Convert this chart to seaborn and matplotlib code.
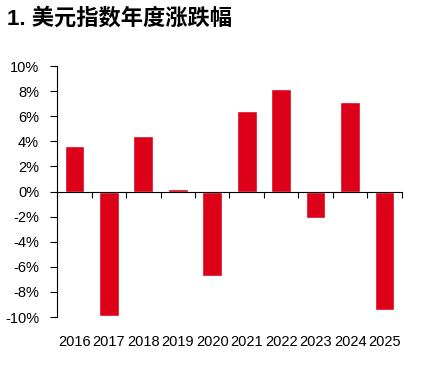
import matplotlib
matplotlib.use("Agg")
import matplotlib.pyplot as plt
import seaborn as sns
from matplotlib.ticker import FuncFormatter

# data
years = ["2016", "2017", "2018", "2019", "2020", "2021", "2022", "2023", "2024", "2025"]
change_pct = [3.6, -9.9, 4.4, 0.2, -6.7, 6.4, 8.2, -2.1, 7.1, -9.4]
y_ticks = [-10, -8, -6, -4, -2, 0, 2, 4, 6, 8, 10]
title = "1. 美元指数年度涨跌幅"
bar_color = "#DC0018"

sns.set_style("white")
plt.rcParams["font.family"] = ["Liberation Sans", "Noto Sans CJK SC"]
plt.rcParams["text.color"] = "black"
plt.rcParams["xtick.color"] = "black"
plt.rcParams["ytick.color"] = "black"

fig = plt.figure(figsize=(4.23, 3.67), dpi=100)
ax = fig.add_axes([0.135, 0.136, 0.815, 0.684])

sns.barplot(x=years, y=change_pct, color=bar_color, saturation=1, width=0.57, ax=ax)

ax.set_xlim(-0.5, len(years) - 0.5)
ax.set_ylim(-10, 10)
ax.set_yticks(y_ticks)
ax.yaxis.set_major_formatter(FuncFormatter(lambda v, p: f"{v:.0f}%"))
ax.tick_params(axis="y", direction="out", length=5, width=0.8, labelsize=10.5, pad=8, left=True)

for s in ["top", "right"]:
    ax.spines[s].set_visible(False)
ax.spines["left"].set_color("black")
ax.spines["left"].set_linewidth(0.8)

# zero line with ticks on category boundaries
ax.spines["bottom"].set_position(("data", 0))
ax.spines["bottom"].set_color("black")
ax.spines["bottom"].set_linewidth(0.8)
ax.set_xticks([i - 0.5 for i in range(len(years) + 1)])
ax.set_xticklabels([])
ax.tick_params(axis="x", direction="out", length=4, width=0.8, bottom=True)
ax.set_xlabel("")
ax.set_ylabel("")

# year labels below the plot area
sec = ax.secondary_xaxis("bottom")
sec.set_xticks(range(len(years)))
sec.set_xticklabels(years)
sec.tick_params(length=0, labelsize=10.5, pad=13)
sec.spines["bottom"].set_visible(False)

fig.text(7 / 423, 1 - 19 / 367, title, fontsize=16, fontweight="bold", va="center", ha="left")

fig.savefig("out.png", dpi=100)
